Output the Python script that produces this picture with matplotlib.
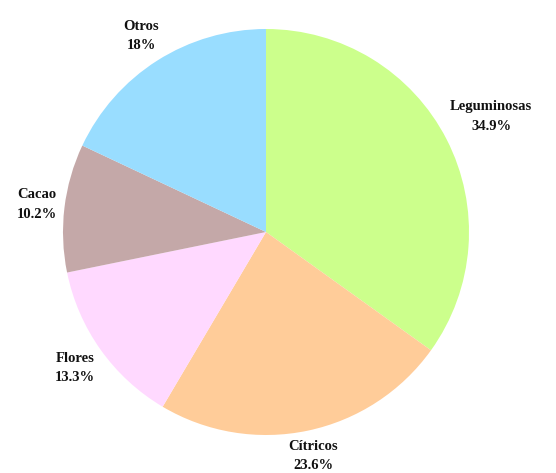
import numpy as np
import matplotlib
matplotlib.use("Agg")
import matplotlib.pyplot as plt

labels = ["Leguminosas", "Cítricos", "Flores", "Cacao", "Otros"]
values = [34.9, 23.6, 13.3, 10.2, 18.0]
pct_text = ["34.9%", "23.6%", "13.3%", "10.2%", "18%"]
colors = ["#CCFF8C", "#FFCC99", "#FFD9FF", "#C4A8A8", "#99DDFF"]

W, H, DPI = 556, 473, 100
fig = plt.figure(figsize=(W / DPI, H / DPI), dpi=DPI)
cx, cy, R = 266, 232, 203
ax = fig.add_axes([(cx - R) / W, (H - cy - R) / H, 2 * R / W, 2 * R / H])
wedges, _ = ax.pie(values, colors=colors, startangle=90, counterclock=False,
                   radius=1.0, wedgeprops=dict(linewidth=0))
ax.set_xlim(-1, 1)
ax.set_ylim(-1, 1)
ax.set_aspect("auto")
ax.axis("off")

fig.canvas.draw()
renderer = fig.canvas.get_renderer()
pad_px = 6
for w, lab, pt in zip(wedges, labels, pct_text):
    mid = np.deg2rad((w.theta1 + w.theta2) / 2)
    ux, uy = np.cos(mid), np.sin(mid)
    t = fig.text(0, 0, f"{lab}\n{pt}", ha="center", va="center",
                 fontsize=10.5, fontweight="bold", family="Liberation Serif",
                 linespacing=1.65, color="#111111")
    bb = t.get_window_extent(renderer)
    half = abs(ux) * bb.width / 2 + abs(uy) * bb.height / 2
    d = R + pad_px + half
    px = cx + ux * d
    py = (H - cy) + uy * d
    py = max(py, bb.height / 2 + 1)
    t.set_position((px / W, py / H))

fig.savefig("out.png", dpi=DPI)
